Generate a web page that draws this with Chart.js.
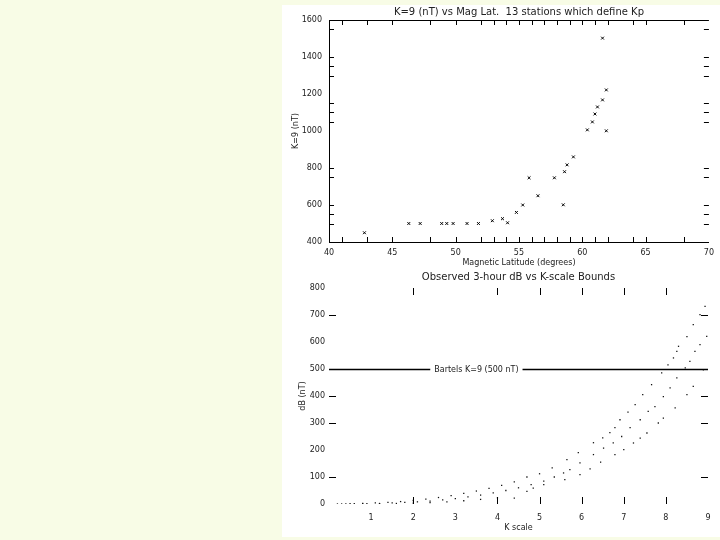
<!DOCTYPE html>
<html>
<head>
<meta charset="utf-8">
<script src="https://cdn.jsdelivr.net/npm/chart.js@4/dist/chart.umd.min.js"></script>
<style>
  html, body { margin: 0; padding: 0; }
  body { width: 720px; height: 540px; background: #f8fce6; position: relative; overflow: hidden; }
  #panel { position: absolute; left: 282px; top: 5px; width: 438px; height: 532px; background: #fff; }
  canvas { position: absolute; left: 282px; }
  #c1 { top: 0px; }
  #c2 { top: 270px; }
</style>
</head>
<body>
<div id="panel"></div>
<canvas id="c1" width="438" height="270"></canvas>
<canvas id="c2" width="438" height="267"></canvas>
<script>
// --- top plot: K=9 lower limit vs magnetic latitude ---
const magLat = [42.8, 46.3, 47.2, 48.9, 49.3, 49.8, 50.9, 51.8, 52.9, 53.7, 54.1, 54.8, 55.3, 55.8,
                56.5, 57.8, 58.5, 58.6, 58.8, 59.3, 60.4, 60.8, 61.0, 61.2, 61.6, 61.9, 61.9, 61.6];
const k9nT   = [450, 500, 500, 500, 500, 500, 500, 500, 515, 526, 504, 560, 600, 747,
                650, 747, 601, 780, 817, 860, 1006, 1049, 1092, 1130, 1168, 1222, 1001, 1502];
const latTicks = [41, 43, 45, 48, 50, 52, 53, 54, 55, 56, 57, 58, 59, 60, 61, 62, 64, 65, 68];
const k9Ticks  = [500, 550, 600, 750, 800, 1050, 1100, 1150, 1300, 1350, 1400, 1550];

// --- bottom plot: observed 3-hour dB vs K scale ---
const kUpper = [0.2, 0.5, 0.8, 1.1, 1.4, 1.7, 2.0, 2.3, 2.6, 2.9, 3.2, 3.5, 3.8, 4.1, 4.4, 4.7, 5.0, 5.3,
                5.65, 5.92, 6.28, 6.5, 6.67, 6.79, 6.91, 7.1, 7.27, 7.45, 7.66, 7.9, 8.05, 8.18, 8.26, 8.3,
                8.5, 8.65, 8.81, 8.93];
const dbUpper = [0, 1, 2, 4, 6, 9, 13, 18, 24, 31, 39, 48, 58, 69, 82, 100, 112, 134,
                 164, 190, 227, 245, 264, 283, 312, 340, 368, 405, 442, 486, 515, 541, 565, 584,
                 620, 664, 701, 732];
const kMiddle = [0.3, 0.6, 0.9, 1.2, 1.5, 1.8, 2.1, 2.4, 2.7, 3.0, 3.3, 3.6, 3.9, 4.2, 4.5, 4.8, 5.1, 5.35,
                 5.57, 5.72, 5.96, 6.28, 6.52, 6.75, 6.95, 7.15, 7.39, 7.58, 7.74, 7.94, 8.1, 8.26, 8.46,
                 8.57, 8.69, 8.81, 8.97];
const dbMiddle = [0, 1, 1, 2, 4, 6, 8, 11, 15, 20, 26, 33, 41, 50, 60, 72, 85, 100,
                  115, 127, 152, 183, 207, 226, 250, 283, 312, 343, 361, 398, 430, 467, 504,
                  528, 565, 590, 621];
const kLower = [0.4, 0.8, 1.2, 1.6, 2.0, 2.4, 2.8, 3.2, 3.6, 4.0, 4.4, 4.7, 4.85, 5.1, 5.6, 5.96, 6.2,
                6.45, 6.79, 7.0, 7.23, 7.39, 7.55, 7.82, 7.94, 8.22, 8.5, 8.65, 8.89];
const dbLower = [0, 0, 1, 2, 3, 5, 8, 12, 17, 23, 22, 47, 59, 72, 90, 109, 130,
                 155, 183, 201, 226, 244, 263, 300, 318, 356, 405, 436, 497];
const kTicks  = [2, 4, 5, 6, 7, 8];
const dbTicks = [100, 300, 400, 700];
const bartelsK9 = 500;

const FONT = { family: 'DejaVu Sans', size: 8 };
const TITLE_FONT = { family: 'DejaVu Sans', size: 10 };
const INK = '#222';

const toPoints = (xs, ys) => xs.map((x, i) => ({ x: x, y: ys[i] }));
const plain = v => String(v);

// IDL style inward ticks + titles, all positioned through the chart scales
const idlDecor = {
    id: 'idlDecor',
    afterDraw(chart, args, opts) {
        const { ctx, chartArea: a, scales } = chart;
        const sx = scales.x, sy = scales.y;
        ctx.save();
        ctx.strokeStyle = '#000';
        ctx.lineWidth = 1;
        ctx.beginPath();
        if (opts.topLine) {
            ctx.moveTo(a.left, Math.round(a.top) + 0.5);
            ctx.lineTo(a.right, Math.round(a.top) + 0.5);
        }
        (opts.xTicks || []).forEach(v => {
            const px = Math.round(sx.getPixelForValue(v)) + 0.5;
            ctx.moveTo(px, a.bottom); ctx.lineTo(px, a.bottom - opts.len);
            ctx.moveTo(px, a.top); ctx.lineTo(px, a.top + opts.len);
        });
        (opts.yTicks || []).forEach(v => {
            const py = Math.round(sy.getPixelForValue(v)) + 0.5;
            ctx.moveTo(a.left, py); ctx.lineTo(a.left + opts.len, py);
            ctx.moveTo(a.right - opts.len, py); ctx.lineTo(a.right, py);
        });
        ctx.stroke();

        if (opts.refLine !== undefined) {
            const py = Math.round(sy.getPixelForValue(opts.refLine)) + 0.5;
            ctx.font = `${FONT.size}px "${FONT.family}"`;
            const tw = ctx.measureText(opts.refLabel).width;
            const cx = opts.refLabelAt ? sx.getPixelForValue(opts.refLabelAt) : (a.left + a.right) / 2;
            ctx.lineWidth = 1.5;
            ctx.beginPath();
            ctx.moveTo(a.left, py); ctx.lineTo(cx - tw / 2 - 4, py);
            ctx.moveTo(cx + tw / 2 + 4, py); ctx.lineTo(a.right, py);
            ctx.stroke();
            ctx.fillStyle = INK;
            ctx.textAlign = 'center';
            ctx.textBaseline = 'middle';
            ctx.fillText(opts.refLabel, cx, py);
        }

        if (opts.title) {
            ctx.font = `${TITLE_FONT.size}px "${TITLE_FONT.family}"`;
            ctx.fillStyle = INK;
            ctx.textAlign = 'center';
            ctx.textBaseline = 'middle';
            ctx.fillText(opts.title, (a.left + a.right) / 2, a.top - opts.titleGap);
        }
        ctx.restore();
    }
};

function initLatChart() {
    const canvas = document.getElementById('c1');
    new Chart(canvas.getContext('2d'), {
        type: 'scatter',
        data: {
            datasets: [{
                data: toPoints(magLat, k9nT),
                pointStyle: 'crossRot',
                pointRadius: 2,
                borderWidth: 1,
                borderColor: '#000',
                backgroundColor: '#000'
            }]
        },
        options: {
            responsive: false,
            animation: false,
            devicePixelRatio: 1,
            layout: { padding: { top: 20, right: 11, left: 0, bottom: 0 } },
            plugins: {
                legend: { display: false },
                tooltip: { enabled: false },
                idlDecor: {
                    title: 'K=9 (nT) vs Mag Lat.  13 stations which define Kp',
                    titleGap: 8,
                    topLine: true,
                    len: 5,
                    xTicks: latTicks,
                    yTicks: k9Ticks
                }
            },
            scales: {
                x: {
                    type: 'linear', min: 40, max: 70,
                    afterFit: s => { s.height = 28; },
                    grid: { display: false, drawTicks: false },
                    border: { display: true, color: '#000', width: 1 },
                    ticks: { stepSize: 5, color: INK, font: FONT, padding: 6, maxRotation: 0, callback: plain },
                    title: { display: true, text: 'Magnetic Latitude (degrees)', color: INK, font: FONT,
                             padding: { top: 0, bottom: 2.2 } }
                },
                y: {
                    type: 'linear', min: 400, max: 1600,
                    afterFit: s => { s.width = 47; },
                    grid: { display: false, drawTicks: false },
                    border: { display: true, color: '#000', width: 1 },
                    ticks: { stepSize: 200, color: INK, font: FONT, padding: 7, callback: plain },
                    title: { display: true, text: 'K=9 (nT)', color: INK, font: FONT,
                             padding: { top: 9.2, bottom: 0 } }
                }
            }
        },
        plugins: [idlDecor]
    });
}

function initKChart() {
    const canvas = document.getElementById('c2');
    const dots = (xs, ys) => ({
        data: toPoints(xs, ys),
        pointStyle: 'rect',
        pointRadius: 0.9,
        borderWidth: 0,
        backgroundColor: '#111'
    });
    new Chart(canvas.getContext('2d'), {
        type: 'scatter',
        data: {
            datasets: [dots(kUpper, dbUpper), dots(kMiddle, dbMiddle), dots(kLower, dbLower)]
        },
        options: {
            responsive: false,
            animation: false,
            devicePixelRatio: 1,
            layout: { padding: { top: 18, right: 12, left: 0, bottom: 0 } },
            plugins: {
                legend: { display: false },
                tooltip: { enabled: false },
                idlDecor: {
                    title: 'Observed 3-hour dB vs K-scale Bounds',
                    titleGap: 11,
                    len: 7,
                    xTicks: kTicks,
                    yTicks: dbTicks,
                    refLine: bartelsK9,
                    refLabel: 'Bartels K=9 (500 nT)',
                    refLabelAt: 3.5
                }
            },
            scales: {
                x: {
                    type: 'linear', min: 0, max: 9,
                    afterFit: s => { s.height = 33; },
                    grid: { display: false, drawTicks: false },
                    border: { display: false },
                    ticks: { stepSize: 1, color: INK, font: FONT, padding: 9, maxRotation: 0,
                             callback: v => (v === 0 ? '' : String(v)) },
                    title: { display: true, text: 'K scale', color: INK, font: FONT,
                             padding: { top: 0, bottom: 4.2 } }
                },
                y: {
                    type: 'linear', min: 0, max: 800,
                    afterFit: s => { s.width = 47; },
                    grid: { display: false, drawTicks: false },
                    border: { display: false },
                    ticks: { stepSize: 100, color: INK, font: FONT, padding: 4, callback: plain },
                    title: { display: true, text: 'dB (nT)', color: INK, font: FONT,
                             padding: { top: 16.2, bottom: 0 } }
                }
            }
        },
        plugins: [idlDecor]
    });
}

initLatChart();
initKChart();
</script>
</body>
</html>
